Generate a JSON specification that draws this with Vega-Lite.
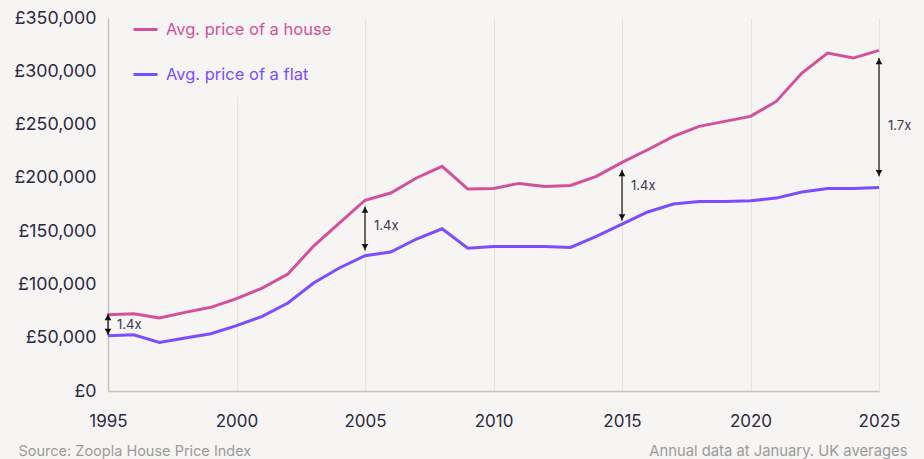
{
  "$schema": "https://vega.github.io/schema/vega-lite/v6.json",
  "width": 771,
  "height": 373,
  "autosize": {"type": "none"},
  "padding": {"left": 108, "top": 18, "right": 45, "bottom": 68},
  "background": "#f6f5f3",
  "config": {
    "view": {"stroke": null},
    "font": "Inter",
    "axis": {"labelFont": "Inter", "titleFont": "Inter"}
  },
  "datasets": {
    "prices": [
      {"year": 1995, "type": "Avg. price of a house", "price": 71600},
      {"year": 1996, "type": "Avg. price of a house", "price": 72500},
      {"year": 1997, "type": "Avg. price of a house", "price": 68500},
      {"year": 1998, "type": "Avg. price of a house", "price": 73800},
      {"year": 1999, "type": "Avg. price of a house", "price": 78500},
      {"year": 2000, "type": "Avg. price of a house", "price": 86600},
      {"year": 2001, "type": "Avg. price of a house", "price": 96600},
      {"year": 2002, "type": "Avg. price of a house", "price": 109800},
      {"year": 2003, "type": "Avg. price of a house", "price": 136000},
      {"year": 2004, "type": "Avg. price of a house", "price": 157500},
      {"year": 2005, "type": "Avg. price of a house", "price": 179000},
      {"year": 2006, "type": "Avg. price of a house", "price": 185800},
      {"year": 2007, "type": "Avg. price of a house", "price": 199900},
      {"year": 2008, "type": "Avg. price of a house", "price": 210800},
      {"year": 2009, "type": "Avg. price of a house", "price": 189500},
      {"year": 2010, "type": "Avg. price of a house", "price": 190100},
      {"year": 2011, "type": "Avg. price of a house", "price": 194800},
      {"year": 2012, "type": "Avg. price of a house", "price": 192000},
      {"year": 2013, "type": "Avg. price of a house", "price": 192900},
      {"year": 2014, "type": "Avg. price of a house", "price": 201400},
      {"year": 2015, "type": "Avg. price of a house", "price": 214500},
      {"year": 2016, "type": "Avg. price of a house", "price": 226400},
      {"year": 2017, "type": "Avg. price of a house", "price": 238900},
      {"year": 2018, "type": "Avg. price of a house", "price": 248300},
      {"year": 2019, "type": "Avg. price of a house", "price": 253000},
      {"year": 2020, "type": "Avg. price of a house", "price": 257700},
      {"year": 2021, "type": "Avg. price of a house", "price": 271700},
      {"year": 2022, "type": "Avg. price of a house", "price": 298400},
      {"year": 2023, "type": "Avg. price of a house", "price": 317100},
      {"year": 2024, "type": "Avg. price of a house", "price": 312400},
      {"year": 2025, "type": "Avg. price of a house", "price": 319600},
      {"year": 1995, "type": "Avg. price of a flat", "price": 51900},
      {"year": 1996, "type": "Avg. price of a flat", "price": 52800},
      {"year": 1997, "type": "Avg. price of a flat", "price": 45600},
      {"year": 1998, "type": "Avg. price of a flat", "price": 49700},
      {"year": 1999, "type": "Avg. price of a flat", "price": 53800},
      {"year": 2000, "type": "Avg. price of a flat", "price": 61300},
      {"year": 2001, "type": "Avg. price of a flat", "price": 70000},
      {"year": 2002, "type": "Avg. price of a flat", "price": 82600},
      {"year": 2003, "type": "Avg. price of a flat", "price": 101300},
      {"year": 2004, "type": "Avg. price of a flat", "price": 115400},
      {"year": 2005, "type": "Avg. price of a flat", "price": 127000},
      {"year": 2006, "type": "Avg. price of a flat", "price": 130400},
      {"year": 2007, "type": "Avg. price of a flat", "price": 142600},
      {"year": 2008, "type": "Avg. price of a flat", "price": 152200},
      {"year": 2009, "type": "Avg. price of a flat", "price": 134000},
      {"year": 2010, "type": "Avg. price of a flat", "price": 135700},
      {"year": 2011, "type": "Avg. price of a flat", "price": 135700},
      {"year": 2012, "type": "Avg. price of a flat", "price": 135700},
      {"year": 2013, "type": "Avg. price of a flat", "price": 134700},
      {"year": 2014, "type": "Avg. price of a flat", "price": 145000},
      {"year": 2015, "type": "Avg. price of a flat", "price": 156500},
      {"year": 2016, "type": "Avg. price of a flat", "price": 168000},
      {"year": 2017, "type": "Avg. price of a flat", "price": 175500},
      {"year": 2018, "type": "Avg. price of a flat", "price": 177900},
      {"year": 2019, "type": "Avg. price of a flat", "price": 177900},
      {"year": 2020, "type": "Avg. price of a flat", "price": 178500},
      {"year": 2021, "type": "Avg. price of a flat", "price": 181000},
      {"year": 2022, "type": "Avg. price of a flat", "price": 186700},
      {"year": 2023, "type": "Avg. price of a flat", "price": 190100},
      {"year": 2024, "type": "Avg. price of a flat", "price": 190100},
      {"year": 2025, "type": "Avg. price of a flat", "price": 191000}
    ],
    "ratios": [
      {"year": 1995, "top": 72500, "bottom": 52500, "labelY": 62300, "label": "1.4x"},
      {"year": 2005, "top": 173200, "bottom": 131900, "labelY": 155100, "label": "1.4x"},
      {"year": 2015, "top": 207600, "bottom": 159800, "labelY": 192000, "label": "1.4x"},
      {"year": 2025, "top": 312500, "bottom": 201400, "labelY": 248900, "label": "1.7x"}
    ]
  },
  "layer": [
    {
      "data": {"name": "prices"},
      "mark": {"type": "line", "strokeWidth": 3, "strokeJoin": "miter"},
      "encoding": {
        "x": {
          "field": "year", "type": "quantitative",
          "scale": {"domain": [1995, 2025], "nice": false, "zero": false},
          "axis": {
            "values": [1995, 2000, 2005, 2010, 2015, 2020, 2025],
            "format": "d",
            "grid": true, "gridColor": "#e6e4e1", "gridWidth": 1.2,
            "domainColor": "#c4c3c3", "domainWidth": 1.5,
            "ticks": false,
            "labelFontSize": 17, "labelColor": "#2d2942", "labelPadding": 22,
            "labelFlush": false,
            "title": "Annual data at January. UK averages",
            "titleFontSize": 14.8, "titleFontWeight": "normal", "titleColor": "#9b9a9a",
            "titleAnchor": "end", "titleAlign": "right", "titleBaseline": "middle",
            "titleX": 799, "titleY": 60
          }
        },
        "y": {
          "field": "price", "type": "quantitative",
          "scale": {"domain": [0, 350000], "nice": false},
          "axis": {
            "values": [0, 50000, 100000, 150000, 200000, 250000, 300000, 350000],
            "labelExpr": "'£' + format(datum.value, ',')",
            "grid": false, "ticks": false,
            "domainColor": "#c4c3c3", "domainWidth": 1.5,
            "labelFontSize": 17.8, "labelColor": "#2d2942", "labelPadding": 12,
            "title": "Source: Zoopla House Price Index",
            "titleFontSize": 14.5, "titleFontWeight": "normal", "titleColor": "#9b9a9a",
            "titleAngle": 0, "titleAlign": "left", "titleBaseline": "middle",
            "titleAnchor": "start", "titleX": -90, "titleY": 433
          }
        },
        "color": {
          "field": "type", "type": "nominal",
          "scale": {
            "domain": ["Avg. price of a house", "Avg. price of a flat"],
            "range": ["#d4509a", "#7c4dff"]
          },
          "legend": {
            "title": null,
            "orient": "none",
            "legendX": 10,
            "legendY": -16,
            "padding": 14,
            "fillColor": "#f6f5f3",
            "strokeColor": null,
            "symbolType": "stroke",
            "symbolSize": 576,
            "symbolStrokeWidth": 3,
            "labelFontSize": 16.5,
            "labelOffset": 7,
            "rowPadding": 23,
            "labelLimit": 400,
            "encode": {
              "labels": {"update": {"fill": {"scale": "color", "field": "value"}}}
            }
          }
        }
      }
    },
    {
      "data": {"name": "ratios"},
      "mark": {"type": "rule", "color": "#111111", "strokeWidth": 1.2},
      "encoding": {
        "x": {"field": "year", "type": "quantitative"},
        "y": {"field": "bottom", "type": "quantitative"},
        "y2": {"field": "top"}
      }
    },
    {
      "data": {"name": "ratios"},
      "mark": {"type": "point", "shape": "triangle-up", "filled": true, "color": "#111111", "opacity": 1, "size": 45, "yOffset": 3.5},
      "encoding": {
        "x": {"field": "year", "type": "quantitative"},
        "y": {"field": "top", "type": "quantitative"}
      }
    },
    {
      "data": {"name": "ratios"},
      "mark": {"type": "point", "shape": "triangle-down", "filled": true, "color": "#111111", "opacity": 1, "size": 45, "yOffset": -3.5},
      "encoding": {
        "x": {"field": "year", "type": "quantitative"},
        "y": {"field": "bottom", "type": "quantitative"}
      }
    },
    {
      "data": {"name": "ratios"},
      "mark": {"type": "text", "align": "left", "baseline": "middle", "dx": 9, "fontSize": 13, "color": "#3b3650"},
      "encoding": {
        "x": {"field": "year", "type": "quantitative"},
        "y": {"field": "labelY", "type": "quantitative"},
        "text": {"field": "label"}
      }
    }
  ]
}
